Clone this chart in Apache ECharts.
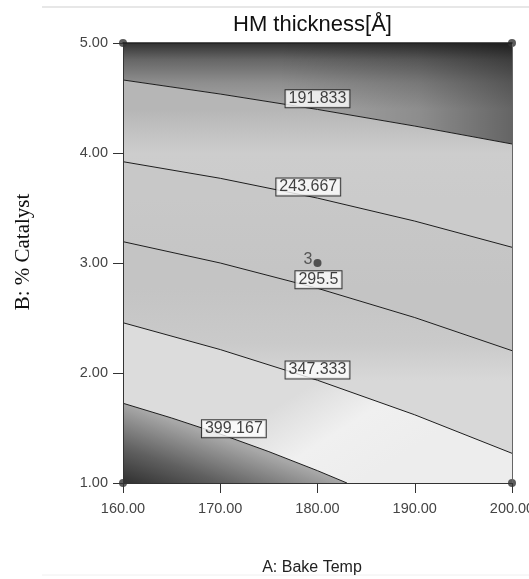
<!DOCTYPE html>
<html>
<head>
<meta charset="utf-8">
<title>HM thickness</title>
<script src="https://cdn.jsdelivr.net/npm/echarts@6/dist/echarts.min.js"></script>
<style>
  html, body { margin: 0; padding: 0; background: #fff; }
  #chart { width: 529px; height: 579px; }
</style>
</head>
<body>
<div id="chart"></div>
<script>
// contour levels of the response (thickness)
var levels = [191.833, 243.667, 295.5, 347.333, 399.167];

// contour traces, [A: bake temp, B: % catalyst]
var line191 = [[160, 4.664], [170, 4.536], [180, 4.396], [190, 4.245], [200, 4.082]];
var line243 = [[160, 3.921], [170, 3.770], [180, 3.590], [190, 3.381], [200, 3.143]];
var line295 = [[160, 3.194], [170, 3.000], [180, 2.770], [190, 2.504], [200, 2.203]];
var line347 = [[160, 2.457], [170, 2.213], [180, 1.934], [190, 1.620], [200, 1.270]];
var line399 = [[160, 1.725], [165, 1.591], [170, 1.445], [175, 1.285], [180, 1.112], [183.03, 1.0]];
var contourLines = [line191, line243, line295, line347, line399];

// where each level's tag sits
var labelX = [180.0, 179.05, 180.1, 180.0, 171.4];
var labelY = [4.493, 3.691, 2.848, 2.027, 1.494];

// design points and replicate counts
var designX = [160, 200, 160, 200, 180];
var designY = [5, 5, 1, 1, 3];
var designRuns = [1, 1, 1, 1, 3];

// shading between the contours (grey levels of the original colour map)
var bands = [
  { top: [[160, 5], [200, 5]], bottom: line191, from: [180, 5], to: [180, 4.40],
    stops: [[0, '#323232'], [0.25, '#666666'], [0.6, '#8e8e8e'], [1, '#a8a8a8']] },
  { top: [[160, 5], [200, 5]], bottom: line191, from: [176, 4.6], to: [200, 4.6],
    stops: [[0, 'rgba(0,0,0,0)'], [0.6, 'rgba(0,0,0,0.16)'], [1, 'rgba(0,0,0,0.4)']] },
  { top: line191, bottom: line243, from: [180, 4.40], to: [180, 3.59],
    stops: [[0, '#b6b6b6'], [0.5, '#cdcdcd'], [1, '#cbcbcb']] },
  { top: line243, bottom: line295, from: [180, 3.59], to: [180, 2.77],
    stops: [[0, '#c8c8c8'], [1, '#c4c4c4']] },
  { top: line295, bottom: line347, from: [180, 2.77], to: [180, 1.93],
    stops: [[0, '#c4c4c4'], [0.6, '#cacaca'], [1, '#d8d8d8']] },
  { top: line347, bottom: line399.concat([[200, 1]]), from: [180, 1.93], to: [186, 1.1],
    stops: [[0, '#dcdcdc'], [0.5, '#f0f0f0'], [1, '#ededed']] },
  { top: line399, bottom: [[160, 1], [183.03, 1]], from: [160, 1], to: [162.6, 1.645],
    stops: [[0, '#303030'], [0.45, '#606060'], [1, '#a8a8a8']] }
];

var fontSans = 'Liberation Sans, Arial, sans-serif';

function renderBand(params, api) {
  var b = bands[params.dataIndex];
  var pts = b.top.concat(b.bottom.slice().reverse()).map(function (p) { return api.coord(p); });
  var a = api.coord(b.from), c = api.coord(b.to);
  var stops = b.stops.map(function (s) { return { offset: s[0], color: s[1] }; });
  return {
    type: 'polygon',
    silent: true,
    shape: { points: pts },
    style: { fill: new echarts.graphic.LinearGradient(a[0], a[1], c[0], c[1], stops, true), stroke: null }
  };
}

var series = [{
  type: 'custom',
  renderItem: renderBand,
  clip: true,
  silent: true,
  z: 1,
  data: bands.map(function (b) { return b.from; })
}];

contourLines.forEach(function (ln) {
  series.push({
    type: 'line',
    data: ln,
    smooth: false,
    symbol: 'none',
    silent: true,
    z: 3,
    lineStyle: { color: '#1c1c1c', width: 1 }
  });
});

series.push({
  type: 'scatter',
  symbolSize: 0,
  silent: true,
  z: 5,
  data: levels.map(function (v, i) { return [labelX[i], labelY[i], v]; }),
  label: {
    show: true,
    position: 'inside',
    formatter: function (p) { return String(p.value[2]); },
    fontFamily: fontSans,
    fontSize: 16,
    color: '#111',
    backgroundColor: '#fff',
    borderColor: '#111',
    borderWidth: 1,
    padding: [1, 3, 0, 3]
  }
});

series.push({
  type: 'scatter',
  symbol: 'circle',
  symbolSize: 8,
  clip: false,
  silent: true,
  z: 6,
  itemStyle: { color: '#333' },
  data: designX.map(function (x, i) { return [x, designY[i], designRuns[i]]; }),
  label: {
    show: true,
    position: 'left',
    distance: 1,
    offset: [0, -3],
    fontFamily: fontSans,
    fontSize: 16,
    color: '#3a3a3a',
    formatter: function (p) { return p.value[2] > 1 ? String(p.value[2]) : ''; }
  }
});

var chart = echarts.init(document.getElementById('chart'), null, { renderer: 'canvas' });
chart.setOption({
  animation: false,
  backgroundColor: '#fff',
  title: {
    text: 'HM thickness[Å]',
    left: 233,
    top: 14,
    padding: 0,
    textStyle: { fontFamily: fontSans, fontSize: 22, fontWeight: 'normal', color: '#111' }
  },
  grid: { left: 123, right: 17, top: 43, bottom: 96, containLabel: false, outerBoundsMode: 'none' },
  xAxis: [{
    type: 'value', min: 160, max: 200, interval: 10, position: 'bottom', z: 10,
    name: 'A: Bake Temp', nameLocation: 'middle', nameGap: 77,
    nameTextStyle: { fontFamily: fontSans, fontSize: 16, color: '#222', padding: [0, 11, 0, 0] },
    axisLine: { show: true, onZero: false, lineStyle: { color: '#333', width: 1 } },
    axisTick: { show: true, length: 10, lineStyle: { color: '#333' } },
    axisLabel: { fontFamily: fontSans, fontSize: 14.5, color: '#444', margin: 18,
      formatter: function (v) { return v.toFixed(2); } },
    splitLine: { show: false }
  }, {
    type: 'value', min: 160, max: 200, position: 'top', z: 10,
    axisLine: { show: true, onZero: false, lineStyle: { color: '#222', width: 1.5 } },
    axisTick: { show: false }, axisLabel: { show: false }, splitLine: { show: false }
  }],
  yAxis: [{
    type: 'value', min: 1, max: 5, interval: 1, position: 'left', z: 10,
    axisLine: { show: true, onZero: false, lineStyle: { color: '#333', width: 1 } },
    axisTick: { show: true, length: 10, lineStyle: { color: '#333' } },
    axisLabel: { fontFamily: fontSans, fontSize: 14.5, color: '#444', margin: 15,
      formatter: function (v) { return v.toFixed(2); } },
    splitLine: { show: false }
  }, {
    type: 'value', min: 1, max: 5, position: 'right', z: 10,
    axisLine: { show: true, onZero: false, lineStyle: { color: '#666', width: 1 } },
    axisTick: { show: false }, axisLabel: { show: false }, splitLine: { show: false }
  }],
  graphic: [
    { type: 'line', silent: true, shape: { x1: 42, y1: 7, x2: 529, y2: 7 },
      style: { stroke: '#cfcfcf', lineWidth: 1 } },
    { type: 'line', silent: true, shape: { x1: 42, y1: 575, x2: 529, y2: 575 },
      style: { stroke: '#f0f0f0', lineWidth: 1 } },
    { type: 'text', silent: true, x: 23, y: 252, rotation: Math.PI / 2,
      style: { text: 'B: % Catalyst', fontFamily: 'Liberation Serif, Times New Roman, serif',
        fontSize: 21, fill: '#111', textAlign: 'center', textVerticalAlign: 'middle' } }
  ],
  series: series
});
</script>
</body>
</html>
